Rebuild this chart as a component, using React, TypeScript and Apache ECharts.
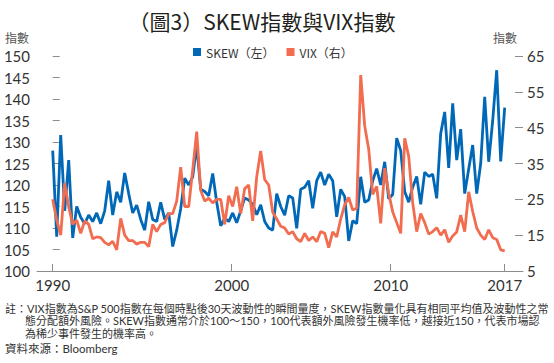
import React, { useEffect, useRef } from 'react';
import * as echarts from 'echarts';

// SKEW index (left axis), sampled evenly along the time axis
const skewValues = [
  128, 108, 131.6, 114, 125.8, 107.7, 115, 112.5, 111, 113,
  111.5, 113.5, 111, 114, 121, 113, 118.4, 116, 122.8, 118,
  113.5, 115.3, 112, 109.5, 116.1, 112, 111.5, 116, 112, 113.5,
  105.7, 109.5, 114.5, 121.6, 120, 121.9, 129.3, 119, 118.5, 117.5,
  122.7, 116, 110.5, 112.3, 111.5, 113.5, 111.2, 114, 117, 116.5,
  115.5, 113.1, 115.4, 111.5, 110, 109.5, 118, 115, 113, 117.5,
  117, 109.9, 119, 119.5, 121, 114.6, 121, 123, 120, 122.5,
  121, 112.6, 119, 117.3, 107, 111.7, 111, 121.9, 116, 116.5,
  121, 123.8, 120, 125.4, 116.8, 117.8, 130.9, 128, 118.5, 116,
  119.5, 122, 115.5, 123, 122, 122.5, 116.9, 132, 137, 124,
  139, 125.8, 133, 118, 123.7, 129.3, 118, 125, 140.5, 125.4,
  135, 146.7, 125.5, 138,
];

// VIX index (right axis)
const vixValues = [
  25, 19.2, 15, 29.5, 22.9, 18, 19.2, 15.5, 19, 18,
  14, 14.5, 14.3, 13, 12.3, 13.3, 10.9, 19.7, 15, 13.5,
  13.5, 12.5, 13, 13, 11.8, 18, 16, 18, 18.5, 21,
  21, 24.5, 34, 23, 23, 33.2, 43.9, 27.5, 24.5, 25.3,
  24, 25, 25, 18, 26, 23, 28.5, 21, 28, 29,
  19, 31.3, 38.5, 30.5, 29, 21.4, 19.5, 17.5, 17, 15.3,
  16, 14, 13.2, 15.5, 13.5, 14.5, 13.2, 16, 15.5, 11.5,
  15.9, 14.5, 19.5, 23.5, 25.5, 22, 22.5, 59.7, 45.5, 39,
  26.4, 28.6, 18.3, 33.7, 26.7, 21.5, 18.5, 15.5, 42, 37,
  24, 16, 21, 18.5, 15.3, 16, 17.1, 15, 16.5, 13,
  14.8, 15.9, 20.6, 16, 27.1, 21.6, 17, 15, 13.8, 16.5,
  14.3, 13.8, 10.9, 10.6,
];

// Year tick labels and the sample index where each falls
const yearLabels = ['1990', '2000', '2010', '2017'];
const yearIndex = [0, 44.75, 84.5, 113];

const seriesNames = ['SKEW（左）', 'VIX（右）'];

const noteLines = [
  '註：VIX指數為S&P 500指數在每個時點後30天波動性的瞬間量度，SKEW指數量化具有相同平均值及波動性之常',
  '態分配額外風險。SKEW指數通常介於100～150，100代表額外風險發生機率低，越接近150，代表市場認',
  '為稀少事件發生的機率高。',
];
const sourceText = '資料來源：Bloomberg';
const titleText = '（圖3）SKEW指數與VIX指數';
const unitText = '指數';

const FONT = "Lato, 'Noto Sans CJK TC', sans-serif";
const CJK = "'Noto Sans CJK TC', sans-serif";
const BLUE = '#0068b7';
const ORANGE = '#f26c4f';
const AXIS = '#8c8c8c';
const TEXT = '#333333';

export default function App() {
  const ref = useRef<HTMLDivElement>(null);
  useEffect(() => {
    if (!ref.current) return;
    const chart = echarts.init(ref.current, null, { renderer: 'svg' });
    const nearestLabel = (v: number) => {
      let best = 0;
      for (let k = 1; k < yearIndex.length; k++) {
        if (Math.abs(yearIndex[k] - v) < Math.abs(yearIndex[best] - v)) best = k;
      }
      return yearLabels[best];
    };
    chart.setOption({
      animation: false,
      backgroundColor: '#ffffff',
      grid: { left: 37, right: 31, top: 56, bottom: 92, containLabel: false },
      legend: {
        data: seriesNames,
        left: 188,
        top: 41,
        icon: 'rect',
        itemWidth: 8,
        itemHeight: 8,
        itemGap: 12,
        textStyle: { fontSize: 12, color: TEXT, fontFamily: CJK },
      },
      xAxis: {
        type: 'value',
        min: -3.925,
        max: 117.575,
        axisLine: { show: true, lineStyle: { color: AXIS, width: 1 } },
        axisTick: {
          show: true,
          inside: true,
          length: 7,
          customValues: yearIndex,
          lineStyle: { color: AXIS },
        },
        axisLabel: {
          customValues: yearIndex,
          formatter: (v: number) => nearestLabel(v),
          fontSize: 15,
          color: TEXT,
          fontFamily: FONT,
          margin: 6,
        },
        splitLine: { show: false },
      },
      yAxis: [
        {
          type: 'value',
          position: 'left',
          min: 100,
          max: 150,
          interval: 5,
          axisLine: { show: false },
          axisTick: { show: true, inside: true, length: 7, lineStyle: { color: AXIS } },
          axisLabel: { fontSize: 15, color: TEXT, fontFamily: FONT, margin: 7 },
          splitLine: { show: false },
        },
        {
          type: 'value',
          position: 'right',
          min: 5,
          max: 65,
          interval: 10,
          axisLine: { show: false },
          axisTick: { show: true, inside: true, length: 8, lineStyle: { color: AXIS } },
          axisLabel: { fontSize: 15, color: TEXT, fontFamily: FONT, margin: 4 },
          splitLine: { show: false },
        },
      ],
      series: [
        {
          name: seriesNames[0],
          type: 'line',
          yAxisIndex: 0,
          showSymbol: false,
          itemStyle: { color: BLUE },
          lineStyle: { color: BLUE, width: 2.8 },
          data: skewValues.map((v, i) => [i, v]),
        },
        {
          name: seriesNames[1],
          type: 'line',
          yAxisIndex: 1,
          showSymbol: false,
          itemStyle: { color: ORANGE },
          lineStyle: { color: ORANGE, width: 2.8 },
          data: vixValues.map((v, i) => [i, v]),
        },
      ],
      graphic: [
        {
          type: 'text',
          x: 262,
          y: 21,
          style: {
            text: titleText,
            fontSize: 21,
            fontFamily: CJK,
            fill: '#231f20',
            align: 'center',
            verticalAlign: 'middle',
          },
        },
        {
          type: 'text',
          x: 5,
          y: 37,
          style: { text: unitText, fontSize: 12, fontFamily: CJK, fill: '#555', verticalAlign: 'middle' },
        },
        {
          type: 'text',
          x: 517,
          y: 37,
          style: { text: unitText, fontSize: 12, fontFamily: CJK, fill: '#555', align: 'right', verticalAlign: 'middle' },
        },
        {
          type: 'text',
          x: 5,
          y: 308,
          style: { text: noteLines[0], fontSize: 11, fontFamily: FONT, fill: TEXT, verticalAlign: 'middle' },
        },
        {
          type: 'text',
          x: 25,
          y: 320.5,
          style: { text: noteLines[1], fontSize: 11, fontFamily: FONT, fill: TEXT, verticalAlign: 'middle' },
        },
        {
          type: 'text',
          x: 25,
          y: 333,
          style: { text: noteLines[2], fontSize: 11, fontFamily: FONT, fill: TEXT, verticalAlign: 'middle' },
        },
        {
          type: 'text',
          x: 5,
          y: 348.5,
          style: { text: sourceText, fontSize: 11.5, fontFamily: FONT, fill: TEXT, verticalAlign: 'middle' },
        },
      ],
    });
    return () => chart.dispose();
  }, []);
  return (
    <div
      ref={ref}
      style={{ position: 'fixed', left: 0, top: 0, width: 554, height: 363, background: '#fff' }}
    />
  );
}
